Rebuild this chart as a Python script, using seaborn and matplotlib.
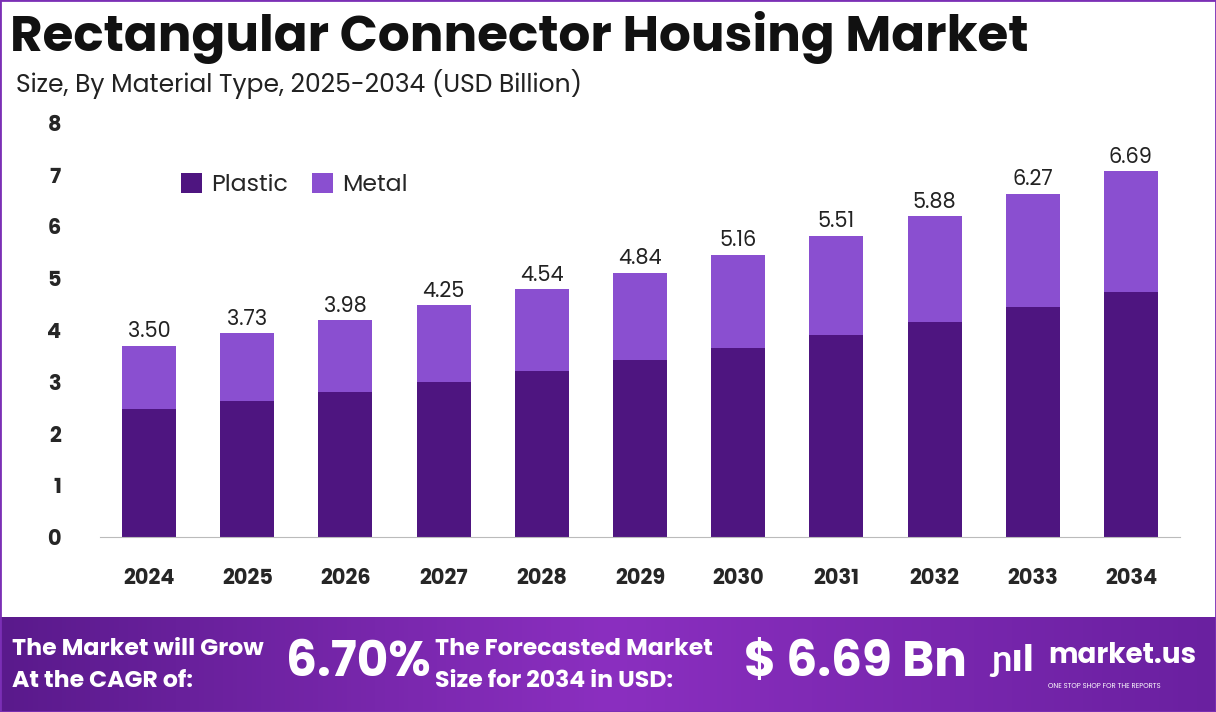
import matplotlib
matplotlib.use("Agg")
import matplotlib.pyplot as plt
import seaborn as sns
import numpy as np
import pandas as pd
from matplotlib.colors import LinearSegmentedColormap

years = ["2024","2025","2026","2027","2028","2029","2030","2031","2032","2033","2034"]
plastic = [2.47,2.63,2.80,3.00,3.21,3.42,3.65,3.90,4.15,4.44,4.73]
metal = [1.22,1.31,1.39,1.48,1.58,1.68,1.80,1.92,2.05,2.19,2.34]
labels = ["3.50","3.73","3.98","4.25","4.54","4.84","5.16","5.51","5.88","6.27","6.69"]

sns.set_style("white")
plt.rcParams['font.family'] = ['Poppins', 'Lato', 'DejaVu Sans']
W, H = 1216, 712
fig = plt.figure(figsize=(W/100, H/100), dpi=100)

ax = fig.add_axes([100/W, 1-537/H, 1080/W, 414/H])
totals = [p+m for p, m in zip(plastic, metal)]
df = pd.DataFrame({"Year": years, "Plastic": plastic, "Total": totals})
sns.barplot(data=df, x="Year", y="Total", color="#8A4FD0", width=0.55, ax=ax, label="Metal", saturation=1, linewidth=0)
sns.barplot(data=df, x="Year", y="Plastic", color="#4E1580", width=0.55, ax=ax, label="Plastic", saturation=1, linewidth=0)
for i, (t, l) in enumerate(zip(totals, labels)):
    ax.text(i, t + 0.05, l, ha="center", va="bottom", fontsize=15, color="#222")
ax.set_ylim(0, 8)
ax.set_yticks(range(0, 9))
ax.set_xlabel(""); ax.set_ylabel("")
for s in ["top", "right", "left"]:
    ax.spines[s].set_visible(False)
ax.spines["bottom"].set_color("#bbb")
ax.tick_params(axis="both", length=0, labelsize=15)
for t in ax.get_xticklabels() + ax.get_yticklabels():
    t.set_fontweight("bold")
ax.tick_params(axis="x", pad=22)
ax.tick_params(axis="y", pad=28)
h, lb = ax.get_legend_handles_labels()
ax.legend(h[::-1], lb[::-1], loc="upper left", bbox_to_anchor=(0.055, 0.93), ncol=2, frameon=False,
          fontsize=17, handlelength=0.9, handleheight=0.9, columnspacing=1.0, handletextpad=0.4)

fig.text(10/W, 1-38/H, "Rectangular Connector Housing Market", fontsize=36, fontweight="bold", va="center", color="#111")
fig.text(16/W, 1-84/H, "Size, By Material Type, 2025-2034 (USD Billion)", fontsize=18, va="center", color="#222")

fax = fig.add_axes([0, 0, 1, 95/H])
grad = np.linspace(0, 1, 256).reshape(1, -1)
cmap = LinearSegmentedColormap.from_list("g", ["#5A1A8C", "#8B2FC0", "#6A20A0"])
fax.imshow(grad, aspect="auto", cmap=cmap, extent=[0, 1, 0, 1])
fax.set_axis_off()
fax.text(0.010, 0.66, "The Market will Grow", color="white", fontsize=17, fontweight="bold", va="center")
fax.text(0.010, 0.32, "At the CAGR of:", color="white", fontsize=17, fontweight="bold", va="center")
fax.text(0.235, 0.50, "6.70%", color="white", fontsize=35, fontweight="bold", va="center")
fax.text(0.358, 0.66, "The Forecasted Market", color="white", fontsize=17, fontweight="bold", va="center")
fax.text(0.358, 0.32, "Size for 2034 in USD:", color="white", fontsize=17, fontweight="bold", va="center")
fax.text(0.612, 0.50, "$ 6.69 Bn", color="white", fontsize=35, fontweight="bold", va="center")
fax.text(0.862, 0.58, "market.us", color="white", fontsize=20, fontweight="bold", va="center")
fax.text(0.862, 0.27, "ONE STOP SHOP FOR THE REPORTS", color="white", fontsize=5, va="center")
fax.text(0.815, 0.52, "ɲıl", color="white", fontsize=26, fontweight="bold", va="center")

fig.patches.append(plt.Rectangle((0, 0), 1, 1, transform=fig.transFigure, fill=False, edgecolor="#7B2FB5", linewidth=2))
fig.savefig("out.png", dpi=100)
